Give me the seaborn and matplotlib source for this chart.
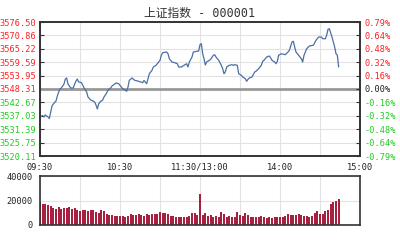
import matplotlib
matplotlib.use("Agg")
import matplotlib.pyplot as plt
import pandas as pd
import seaborn as sns

# ---------------- data ----------------
minutes = [0, 2, 3, 4, 6, 7, 8, 9, 10, 12, 13, 14, 15, 16, 18, 19, 20, 21, 22, 23,
           25, 26, 27, 28, 29, 31, 32, 33, 35, 36, 38, 39, 41, 42, 43, 44, 45, 47, 48, 50,
           51, 53, 54, 56, 57, 59, 60, 62, 64, 65, 66, 67, 69, 71, 74, 77, 78, 80, 81, 82,
           84, 85, 87, 88, 90, 91, 92, 95, 96, 97, 99, 101, 103, 104, 106, 108, 110, 111, 112, 114,
           115, 118, 119, 120, 121, 122, 123, 124, 125, 127, 128, 130, 131, 132, 134, 136, 137, 138, 139, 140,
           142, 144, 145, 146, 148, 149, 151, 152, 154, 155, 156, 157, 159, 161, 162, 164, 166, 167, 168, 170,
           172, 173, 174, 176, 177, 178, 179, 181, 184, 186, 187, 189, 190, 191, 192, 194, 196, 197, 198, 200,
           202, 205, 207, 209, 211, 212, 214, 215, 216, 217, 219, 220, 221, 222, 223, 224]
prices = [3536.52, 3537.16, 3536.52, 3537.37, 3536.52, 3535.89, 3538.63, 3541.15, 3541.99, 3543.26,
          3545.36, 3547.04, 3548.31, 3548.73, 3550.41, 3552.51, 3552.94, 3550.41, 3549.57, 3548.73,
          3548.73, 3550.41, 3551.67, 3552.51, 3551.25, 3551.04, 3549.99, 3548.73, 3547.04, 3544.94,
          3543.68, 3543.47, 3542.84, 3541.57, 3539.89, 3541.99, 3542.84, 3543.68, 3544.94, 3546.62,
          3547.89, 3548.73, 3549.57, 3550.41, 3550.83, 3550.54, 3549.86, 3548.43, 3547.76, 3547.34,
          3549.15, 3551.97, 3552.94, 3551.97, 3551.55, 3550.96, 3551.88, 3550.54, 3552.64, 3554.74,
          3556.18, 3557.56, 3558.28, 3558.95, 3560.38, 3562.49, 3563.58, 3563.88, 3563.16, 3561.06,
          3559.67, 3559.37, 3558.95, 3557.56, 3557.56, 3558.28, 3558.95, 3557.56, 3559.67, 3561.77,
          3563.88, 3564.17, 3564.30, 3566.95, 3567.37, 3563.16, 3561.06, 3558.41, 3559.67, 3560.38,
          3560.80, 3562.49, 3562.74, 3561.77, 3560.38, 3558.28, 3556.85, 3554.74, 3555.46, 3557.56,
          3558.28, 3558.53, 3558.28, 3558.53, 3558.28, 3554.74, 3554.07, 3553.36, 3552.64, 3551.55,
          3552.39, 3552.94, 3553.36, 3555.46, 3555.75, 3556.85, 3558.28, 3559.96, 3560.38, 3561.77,
          3562.19, 3561.35, 3560.38, 3559.67, 3558.95, 3559.96, 3562.49, 3563.16, 3562.74, 3563.88,
          3564.59, 3568.08, 3568.38, 3565.98, 3563.88, 3562.49, 3561.06, 3559.67, 3562.49, 3565.26,
          3566.40, 3566.70, 3568.80, 3570.19, 3570.19, 3569.47, 3569.47, 3570.90, 3573.43, 3573.68,
          3570.19, 3568.08, 3565.98, 3563.16, 3562.49, 3557.56]

vol_minutes = list(range(0, 225, 2))
volumes = [18500, 17500, 16800, 16500, 15200, 14000, 13000, 14500, 13200, 14000,
           13600, 14500, 12800, 13500, 12000, 11600, 12600, 12200, 11800, 12000,
           12400, 11000, 10200, 12500, 11200, 8600, 8000, 7800, 7200, 7600,
           7000, 7200, 6400, 7000, 8800, 8500, 8000, 9000, 7800, 7500,
           9000, 8200, 8600, 9200, 9000, 10800, 9600, 10000, 9000, 7400,
           7000, 6400, 6800, 6600, 6500, 6300, 7000, 9600, 9400, 8000,
           25500, 7800, 10200, 7600, 7800, 6800, 7000, 6800, 11000, 8800,
           6400, 7200, 6800, 6500, 11000, 8000, 7200, 9800, 8400, 6500,
           6600, 6800, 6200, 7000, 6400, 6000, 6600, 6000, 6400, 6200,
           6200, 6800, 7200, 8600, 8200, 7800, 8000, 8600, 7800, 7200,
           7000, 6900, 7000, 10200, 11600, 9200, 9000, 11400, 12000, 17500,
           18800, 20000, 21200]

prev_close = 3548.31
price_ticks = [3576.50, 3570.86, 3565.22, 3559.59, 3553.95, 3548.31,
               3542.67, 3537.03, 3531.39, 3525.75, 3520.11]
pct_labels = ["0.79%", "0.64%", "0.48%", "0.32%", "0.16%", "0.00%",
              "-0.16%", "-0.32%", "-0.48%", "-0.64%", "-0.79%"]
time_ticks = [0, 60, 120, 180, 240]
time_labels = ["09:30", "10:30", "11:30/13:00", "14:00", "15:00"]
grid_ticks = [30, 90, 150, 210]
vol_ticks = [0, 20000, 40000]
vol_minor = [10000, 30000]
title = "上证指数 - 000001"

# ---------------- style ----------------
sns.set_theme(style="white")
plt.rcParams['font.family'] = ['DejaVu Sans Mono', 'Noto Sans CJK SC']

RED = "#ff2020"
GREEN = "#22cc22"
DARK = "#222222"
GRID = "#e2e2e2"
SPINE = "#333333"

fig = plt.figure(figsize=(4, 2.4), dpi=100)
ax = fig.add_axes([0.1, 1 - 156 / 240, 0.8, 134 / 240])
axv = fig.add_axes([0.1, 1 - 225 / 240, 0.8, 49 / 240])

fig.text(0.5, 1 - 13 / 240, title, ha="center", va="center",
         fontsize=8.5, color="#333333",
         family=['DejaVu Sans Mono', 'Noto Sans CJK SC'])

# ---------------- price panel ----------------
df = pd.DataFrame({"minute": minutes, "price": prices})
ax.set_axisbelow(True)
ax.axhline(prev_close, color="#999999", lw=2, zorder=1)
sns.lineplot(data=df, x="minute", y="price", ax=ax, color="#4a6fa5", lw=0.9, zorder=3)

ax.set_xlim(0, 240)
ax.set_ylim(price_ticks[-1], price_ticks[0])
ax.set_xlabel("")
ax.set_ylabel("")
ax.set_yticks(price_ticks)
ax.set_yticklabels([f"{v:.2f}" for v in price_ticks])
for lab, v in zip(ax.get_yticklabels(), price_ticks):
    lab.set_color(RED if v >= prev_close else GREEN)
ax.set_xticks(time_ticks)
ax.set_xticklabels(time_labels)
ax.set_xticks(grid_ticks, minor=True)
ax.tick_params(axis="x", which="both", length=0, labelsize=6.2, pad=5, colors=DARK)
ax.tick_params(axis="y", direction="in", length=3, width=0.8, color=SPINE,
               labelsize=6.2, pad=2.5)
ax.grid(True, axis="both", which="both", color=GRID, lw=0.8)

axr = ax.twinx()
axr.set_ylim(ax.get_ylim())
axr.set_yticks(price_ticks)
axr.set_yticklabels(pct_labels)
for lab, v in zip(axr.get_yticklabels(), price_ticks):
    if v > prev_close:
        lab.set_color(RED)
    elif v < prev_close:
        lab.set_color(GREEN)
    else:
        lab.set_color(DARK)
axr.tick_params(axis="y", direction="in", length=3, width=0.8, color=SPINE,
                labelsize=6.2, pad=3.5)
axr.set_ylabel("")

for a in (ax, axr):
    for s in a.spines.values():
        s.set_color(SPINE)
        s.set_linewidth(1.2)

# ---------------- volume panel ----------------
axv.set_axisbelow(True)
sns.barplot(x=vol_minutes, y=volumes, native_scale=True, ax=axv,
            color="#a8203f", saturation=1, width=0.75, linewidth=0)
axv.set_xlim(0, 240)
axv.set_ylim(0, 40000)
axv.set_xlabel("")
axv.set_ylabel("")
axv.set_yticks(vol_ticks)
axv.set_yticklabels([str(v) for v in vol_ticks])
axv.set_yticks(vol_minor, minor=True)
axv.set_xticks(time_ticks)
axv.set_xticks(grid_ticks, minor=True)
axv.set_xticklabels([])
axv.tick_params(axis="x", which="both", length=0)
axv.tick_params(axis="y", which="both", direction="in", length=3, width=0.8,
                color=SPINE, labelsize=6.2, pad=5, colors=DARK)
axv.tick_params(axis="y", which="both", color=SPINE)
axv.grid(True, axis="x", which="both", color=GRID, lw=0.8)
axv.grid(True, axis="y", which="major", color=GRID, lw=0.8)
for s in axv.spines.values():
    s.set_color(SPINE)
    s.set_linewidth(1.2)

fig.savefig("out.png", dpi=100)
